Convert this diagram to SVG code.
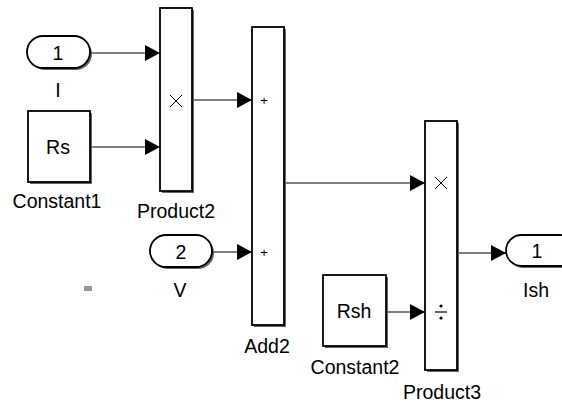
<svg xmlns="http://www.w3.org/2000/svg" width="562" height="403" viewBox="0 0 562 403">
<style>
.blk{fill:#fff;stroke:#000;stroke-width:1.8}
.sh{fill:#666}
.t{font-family:"Liberation Sans",Arial,sans-serif;font-size:19.5px;fill:#000;text-anchor:middle}
.s{font-family:"Liberation Sans",Arial,sans-serif;font-size:13px;fill:#000;text-anchor:middle}
.w{stroke:#000;stroke-width:1.2;fill:none}
</style>
<defs>
<marker id="ah" markerWidth="15" markerHeight="16" refX="15" refY="8" orient="auto" markerUnits="userSpaceOnUse">
<path d="M0,0 L15,8 L0,16 Z" fill="#000"/>
</marker>
</defs>
<rect width="562" height="403" fill="#fff"/>
<g id="connectors">
<path class="w" d="M90,53 H160" marker-end="url(#ah)"/>
<path class="w" d="M90,147 H160" marker-end="url(#ah)"/>
<path class="w" d="M192,100 H252" marker-end="url(#ah)"/>
<path class="w" d="M212,252 H252" marker-end="url(#ah)"/>
<path class="w" d="M284,183 H425" marker-end="url(#ah)"/>
<path class="w" d="M386,312 H425" marker-end="url(#ah)"/>
<path class="w" d="M457,253 H506" marker-end="url(#ah)"/>
</g>
<g id="In1">
<rect class="sh" x="29" y="38" width="63" height="32" rx="16"/>
<rect class="blk" x="27" y="36" width="63" height="32" rx="16"/>
<text class="t" x="58" y="60">1</text>
<text class="t" x="58" y="97">I</text>
</g>
<g id="Constant1">
<rect class="sh" x="30" y="113" width="62" height="71"/>
<rect class="blk" x="28" y="111" width="62" height="71"/>
<text class="t" x="58" y="154">Rs</text>
<text class="t" x="57" y="208">Constant1</text>
</g>
<g id="Product2">
<rect class="sh" x="162" y="10" width="32" height="183"/>
<rect class="blk" x="160" y="8" width="32" height="183"/>
<path d="M170,95 L182,107 M182,95 L170,107" stroke="#000" stroke-width="1"/>
<text class="t" x="176" y="218">Product2</text>
</g>
<g id="In2">
<rect class="sh" x="152" y="237" width="62" height="32" rx="16"/>
<rect class="blk" x="150" y="235" width="62" height="32" rx="16"/>
<text class="t" x="181" y="259">2</text>
<text class="t" x="180" y="297">V</text>
</g>
<g id="Add2">
<rect class="sh" x="254" y="29" width="32" height="298"/>
<rect class="blk" x="252" y="27" width="32" height="298"/>
<text class="s" x="264" y="105">+</text>
<text class="s" x="264" y="257">+</text>
<text class="t" x="267" y="353">Add2</text>
</g>
<g id="Constant2">
<rect class="sh" x="325" y="277" width="63" height="71"/>
<rect class="blk" x="323" y="275" width="63" height="71"/>
<text class="t" x="354" y="318">Rsh</text>
<text class="t" x="355" y="374">Constant2</text>
</g>
<g id="Product3">
<rect class="sh" x="427" y="123" width="32" height="249"/>
<rect class="blk" x="425" y="121" width="32" height="249"/>
<path d="M435,177 L447,189 M447,177 L435,189" stroke="#000" stroke-width="1"/>
<path d="M435,312 H447" stroke="#000" stroke-width="1.2"/>
<circle cx="441" cy="306" r="1.6" fill="#000"/>
<circle cx="441" cy="318" r="1.6" fill="#000"/>
<text class="t" x="442" y="399">Product3</text>
</g>
<g id="Out1">
<rect class="sh" x="508" y="237" width="70" height="31" rx="15.5"/>
<rect class="blk" x="506" y="235" width="70" height="31" rx="15.5"/>
<text class="t" x="537" y="258">1</text>
<text class="t" x="536" y="297">Ish</text>
</g>
<rect x="84" y="286" width="8" height="5" fill="#999"/>
</svg>
